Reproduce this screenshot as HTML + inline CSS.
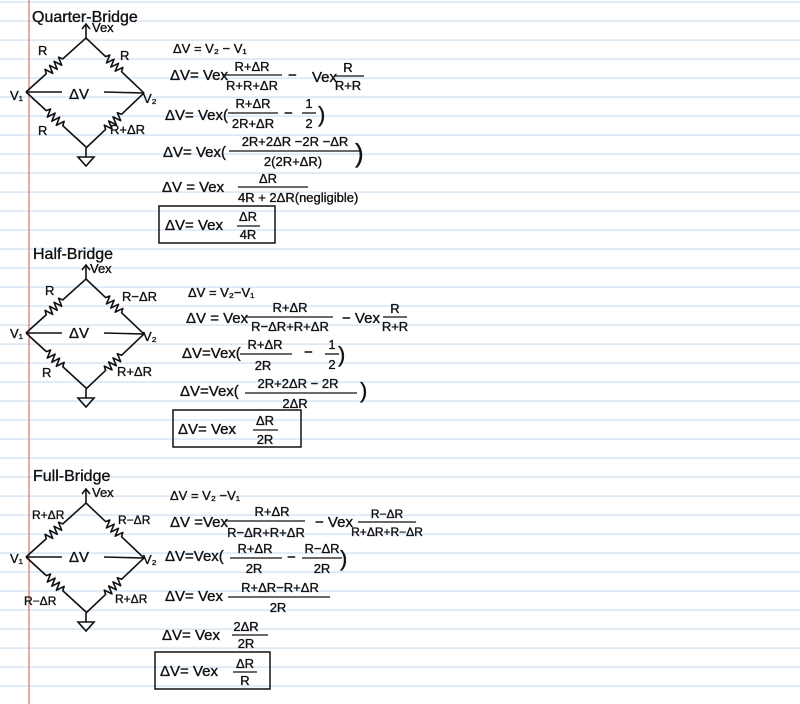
<!DOCTYPE html>
<html><head><meta charset="utf-8"><style>
html,body{margin:0;padding:0;background:#fff;}
svg{display:block;}
text{font-family:"Liberation Sans","DejaVu Sans",sans-serif;fill:#111;stroke:#111;stroke-width:0.35px;}
.m{font-size:15px;}
.f{font-size:13px;}
.s{font-size:12px;}
</style></head><body>
<svg width="800" height="704" viewBox="0 0 800 704" xmlns="http://www.w3.org/2000/svg">
<defs>
<pattern id="lines" width="800" height="19" patternUnits="userSpaceOnUse" y="1.5">
<rect width="800" height="19" fill="#fff"/>
<line x1="0" y1="0.5" x2="800" y2="0.5" stroke="#c9dcee" stroke-width="1.2"/>
</pattern>
<g id="res">
<polyline points="0,0 27,0 29,-4 32,4 35,-4 38,4 41,-4 44,4 47,-4 49,0 80,0" fill="none" stroke="#111" stroke-width="1.6" stroke-linejoin="round"/>
</g>
<g id="bridge" fill="none" stroke="#111" stroke-width="1.6">
<g transform="translate(-60,54) rotate(-42) scale(1.01)"><use href="#res"/></g>
<g transform="translate(0,0) rotate(43.5) scale(1.0)"><use href="#res"/></g>
<g transform="translate(-60,54) rotate(42.5) scale(1.02)"><use href="#res"/></g>
<g transform="translate(0,110) rotate(-43.5) scale(1.0)"><use href="#res"/></g>
<line x1="-60" y1="54" x2="-24" y2="54"/>
<line x1="18" y1="54" x2="57" y2="55"/>
<line x1="0" y1="0" x2="0" y2="-14"/>
<polyline points="-4,-9 0,-14 4,-9"/>
<line x1="0" y1="110" x2="0" y2="119"/>
<polygon points="-8,119 8,119 0,128"/>
</g>
</defs>
<rect width="800" height="704" fill="url(#lines)"/>
<line x1="29" y1="0" x2="29" y2="704" stroke="#e08c8c" stroke-width="1.5"/>

<!-- QUARTER -->
<text x="32" y="22" class="m" style="font-size:16px">Quarter-Bridge</text>
<use href="#bridge" transform="translate(86,38)"/>
<text x="92" y="32" class="f">Vex</text>
<text x="38" y="55" class="f">R</text>
<text x="120" y="60" class="f">R</text>
<text x="10" y="100" class="f">V₁</text>
<text x="69" y="99" class="m">ΔV</text>
<text x="143" y="103" class="f">V₂</text>
<text x="38" y="135" class="f">R</text>
<text x="110" y="134" class="f">R+ΔR</text>

<g>
<text x="173" y="53" class="f">ΔV = V₂ − V₁</text>
<text x="170" y="80" class="m">ΔV= Vex</text>
<text x="252" y="71" class="f" text-anchor="middle">R+ΔR</text>
<line x1="222" y1="75" x2="282" y2="75" stroke="#111" stroke-width="1.3"/>
<text x="252" y="90" class="f" text-anchor="middle">R+R+ΔR</text>
<text x="288" y="80" class="m">−</text>
<text x="312" y="82" class="m">Vex</text>
<text x="348" y="72" class="f" text-anchor="middle">R</text>
<line x1="334" y1="76" x2="364" y2="76" stroke="#111" stroke-width="1.3"/>
<text x="348" y="90" class="f" text-anchor="middle">R+R</text>

<text x="165" y="120" class="m">ΔV= Vex(</text>
<text x="253" y="108" class="f" text-anchor="middle">R+ΔR</text>
<line x1="228" y1="113" x2="278" y2="113" stroke="#111" stroke-width="1.3"/>
<text x="253" y="128" class="f" text-anchor="middle">2R+ΔR</text>
<text x="284" y="118" class="m">−</text>
<text x="309" y="108" class="f" text-anchor="middle">1</text>
<line x1="302" y1="113" x2="316" y2="113" stroke="#111" stroke-width="1.3"/>
<text x="309" y="128" class="f" text-anchor="middle">2</text>
<text x="318" y="122" class="m" style="font-size:22px">)</text>

<text x="163" y="157" class="m">ΔV= Vex(</text>
<text x="295" y="146" class="f" text-anchor="middle">2R+2ΔR −2R −ΔR</text>
<line x1="229" y1="151" x2="360" y2="151" stroke="#111" stroke-width="1.3"/>
<text x="293" y="166" class="f" text-anchor="middle">2(2R+ΔR)</text>
<text x="355" y="162" class="m" style="font-size:26px">)</text>

<text x="162" y="192" class="m">ΔV = Vex</text>
<text x="268" y="183" class="f" text-anchor="middle">ΔR</text>
<line x1="238" y1="187" x2="308" y2="187" stroke="#111" stroke-width="1.3"/>
<text x="238" y="202" class="f">4R + 2ΔR(negligible)</text>

<rect x="159" y="206" width="116" height="37" fill="none" stroke="#111" stroke-width="1.5"/>
<text x="165" y="230" class="m">ΔV=  Vex</text>
<text x="248" y="221" class="f" text-anchor="middle">ΔR</text>
<line x1="237" y1="226" x2="260" y2="226" stroke="#111" stroke-width="1.3"/>
<text x="248" y="239" class="f" text-anchor="middle">4R</text>
</g>

<!-- HALF -->
<text x="33" y="259" class="m" style="font-size:16px">Half-Bridge</text>
<use href="#bridge" transform="translate(86,279)"/>
<text x="90" y="273" class="f">Vex</text>
<text x="45" y="295" class="f">R</text>
<text x="122" y="301" class="f">R−ΔR</text>
<text x="10" y="338" class="f">V₁</text>
<text x="69" y="338" class="m">ΔV</text>
<text x="143" y="341" class="f">V₂</text>
<text x="42" y="377" class="f">R</text>
<text x="117" y="376" class="f">R+ΔR</text>

<text x="188" y="297" class="f">ΔV = V₂−V₁</text>
<text x="186" y="323" class="m">ΔV = Vex</text>
<text x="290" y="312" class="f" text-anchor="middle">R+ΔR</text>
<line x1="245" y1="317" x2="333" y2="317" stroke="#111" stroke-width="1.3"/>
<text x="290" y="331" class="f" text-anchor="middle">R−ΔR+R+ΔR</text>
<text x="342" y="323" class="m">− Vex</text>
<text x="395" y="313" class="f" text-anchor="middle">R</text>
<line x1="383" y1="317" x2="407" y2="317" stroke="#111" stroke-width="1.3"/>
<text x="395" y="331" class="f" text-anchor="middle">R+R</text>

<text x="182" y="358" class="m">ΔV=Vex(</text>
<text x="265" y="349" class="f" text-anchor="middle">R+ΔR</text>
<line x1="240" y1="354" x2="292" y2="354" stroke="#111" stroke-width="1.3"/>
<text x="263" y="370" class="f" text-anchor="middle">2R</text>
<text x="304" y="357" class="m">−</text>
<text x="332" y="349" class="f" text-anchor="middle">1</text>
<line x1="325" y1="354" x2="339" y2="354" stroke="#111" stroke-width="1.3"/>
<text x="332" y="369" class="f" text-anchor="middle">2</text>
<text x="338" y="362" class="m" style="font-size:22px">)</text>

<text x="180" y="396" class="m">ΔV=Vex(</text>
<text x="298" y="388" class="f" text-anchor="middle">2R+2ΔR − 2R</text>
<line x1="245" y1="393" x2="357" y2="393" stroke="#111" stroke-width="1.3"/>
<text x="295" y="408" class="f" text-anchor="middle">2ΔR</text>
<text x="360" y="398" class="m" style="font-size:22px">)</text>

<rect x="173" y="410" width="128" height="37" fill="none" stroke="#111" stroke-width="1.5"/>
<text x="178" y="434" class="m">ΔV=  Vex</text>
<text x="265" y="425" class="f" text-anchor="middle">ΔR</text>
<line x1="253" y1="430" x2="278" y2="430" stroke="#111" stroke-width="1.3"/>
<text x="265" y="444" class="f" text-anchor="middle">2R</text>

<!-- FULL -->
<text x="33" y="481" class="m" style="font-size:16px">Full-Bridge</text>
<use href="#bridge" transform="translate(86,503)"/>
<text x="92" y="497" class="f">Vex</text>
<text x="32" y="519" class="s">R+ΔR</text>
<text x="118" y="524" class="s">R−ΔR</text>
<text x="10" y="563" class="f">V₁</text>
<text x="69" y="562" class="m">ΔV</text>
<text x="143" y="564" class="f">V₂</text>
<text x="24" y="605" class="s">R−ΔR</text>
<text x="115" y="603" class="s">R+ΔR</text>

<text x="170" y="500" class="f">ΔV = V₂ −V₁</text>
<text x="170" y="527" class="m">ΔV =Vex</text>
<text x="272" y="516" class="f" text-anchor="middle">R+ΔR</text>
<line x1="225" y1="521" x2="305" y2="521" stroke="#111" stroke-width="1.3"/>
<text x="266" y="537" class="f" text-anchor="middle">R−ΔR+R+ΔR</text>
<text x="315" y="527" class="m">− Vex</text>
<text x="387" y="518" class="s" text-anchor="middle">R−ΔR</text>
<line x1="358" y1="522" x2="416" y2="522" stroke="#111" stroke-width="1.3"/>
<text x="387" y="536" class="s" text-anchor="middle">R+ΔR+R−ΔR</text>

<text x="165" y="561" class="m">ΔV=Vex(</text>
<text x="255" y="553" class="f" text-anchor="middle">R+ΔR</text>
<line x1="230" y1="558" x2="282" y2="558" stroke="#111" stroke-width="1.3"/>
<text x="254" y="573" class="f" text-anchor="middle">2R</text>
<text x="287" y="562" class="m">−</text>
<text x="322" y="553" class="f" text-anchor="middle">R−ΔR</text>
<line x1="302" y1="558" x2="342" y2="558" stroke="#111" stroke-width="1.3"/>
<text x="322" y="573" class="f" text-anchor="middle">2R</text>
<text x="340" y="566" class="m" style="font-size:22px">)</text>

<text x="165" y="601" class="m">ΔV= Vex</text>
<text x="280" y="592" class="f" text-anchor="middle">R+ΔR−R+ΔR</text>
<line x1="228" y1="597" x2="330" y2="597" stroke="#111" stroke-width="1.3"/>
<text x="278" y="612" class="f" text-anchor="middle">2R</text>

<text x="162" y="640" class="m">ΔV= Vex</text>
<text x="246" y="631" class="f" text-anchor="middle">2ΔR</text>
<line x1="232" y1="635" x2="268" y2="635" stroke="#111" stroke-width="1.3"/>
<text x="246" y="648" class="f" text-anchor="middle">2R</text>

<rect x="155" y="652" width="115" height="37" fill="none" stroke="#111" stroke-width="1.5"/>
<text x="160" y="676" class="m">ΔV= Vex</text>
<text x="245" y="668" class="f" text-anchor="middle">ΔR</text>
<line x1="233" y1="672" x2="257" y2="672" stroke="#111" stroke-width="1.3"/>
<text x="245" y="685" class="f" text-anchor="middle">R</text>
</svg>
</body></html>
